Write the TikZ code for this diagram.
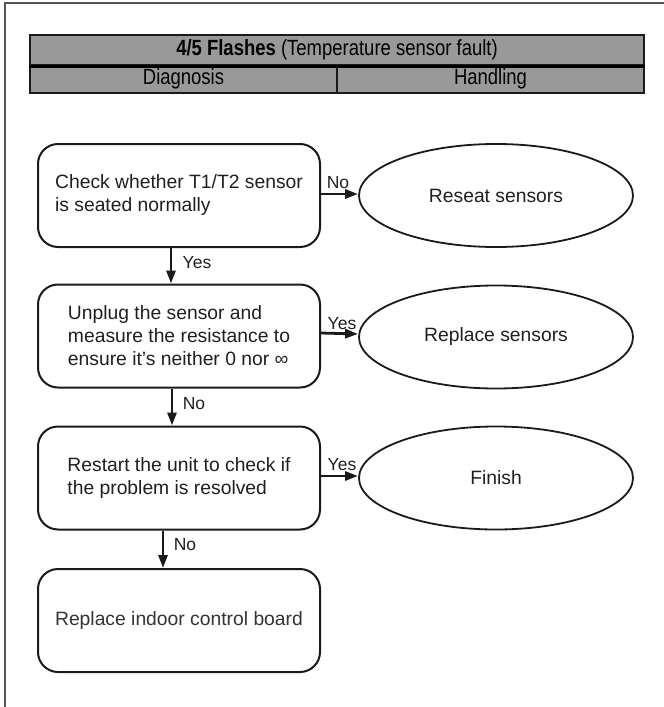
\documentclass[tikz,border=0pt]{standalone}
\usepackage{fontspec}
\usepackage{graphicx}
\setmainfont{Liberation Sans}
\usetikzlibrary{shapes.geometric,arrows.meta}
\definecolor{hdrgray}{HTML}{999999}
\definecolor{linec}{HTML}{1A1A1A}
\definecolor{framec}{HTML}{555555}
\begin{document}
\begin{tikzpicture}[x=1pt,y=-1pt,
  framestyle/.style={draw=framec,line width=1.5pt},
  hdr/.style={draw=linec,fill=hdrgray,line width=2pt,inner sep=0pt},
  hdrtext/.style={font=\fontsize{22}{24}\selectfont},
  stepbox/.style={draw=linec,line width=2pt,rounded corners=20pt,minimum width=282pt,minimum height=103pt,inner sep=0pt,align=left,text=black!88,font=\fontsize{19.3}{23}\selectfont},
  oval/.style={ellipse,draw=linec,line width=1.8pt,minimum width=274pt,minimum height=103pt,inner sep=0pt,text=black!88,font=\fontsize{19.3}{23}\selectfont},
  arr/.style={draw=linec,line width=2.8pt,-{Triangle[length=13pt,width=9pt]}},
  lbl/.style={inner sep=0pt,text=black!88,font=\fontsize{17.5}{19}\selectfont}
]
\useasboundingbox (0,0) rectangle (664,707);
% outer frame
\draw[framestyle] (5,707) -- (5,3) -- (664,3);
% header
\node[hdr,minimum width=614pt,minimum height=30pt] (title) at (337,50)
  {\scalebox{0.84}[1]{\fontsize{22}{24}\selectfont\textbf{4/5 Flashes} (Temperature sensor fault)}};
\node[hdr,minimum width=307pt,minimum height=28pt] (diag) at (183.5,79)
  {\scalebox{0.84}[1]{\fontsize{22}{24}\selectfont Diagnosis}};
\node[hdr,minimum width=307pt,minimum height=28pt] (hand) at (490.5,79)
  {\scalebox{0.84}[1]{\fontsize{22}{24}\selectfont Handling}};
\draw[draw=black,line width=3pt] (title.south west) -- (title.south east);
% diagnosis boxes
\node[stepbox] (b1) at (179,195.5) {Check whether T1/T2 sensor\\is seated normally};
\node[stepbox] (b2) at (179,336) {Unplug the sensor and\\measure the resistance to\\ensure it's neither 0 nor ∞};
\node[stepbox] (b3) at (179,478) {Restart the unit to check if\\the problem is resolved};
\node[stepbox,text=black!80] (b4) at (179,620.5) {Replace indoor control board};
% handling ovals
\node[oval] (e1) at (496,195.5) {Reseat sensors};
\node[oval] (e2) at (496,337) {Replace sensors};
\node[oval] (e3) at (496,478) {Finish};
% connectors
\draw[arr] ([yshift=1.5pt]b1.east) -- ([yshift=1.5pt]e1.west);
\draw[arr] ([yshift=3pt]b2.east) -- ([yshift=3pt]e2.west);
\draw[arr] ([yshift=2pt]b3.east) -- ([yshift=2pt]e3.west);
\draw[arr] ([xshift=-8pt]b1.south) -- ([xshift=-8pt]b2.north);
\draw[arr] ([xshift=-7pt]b2.south) -- ([xshift=-7pt]b3.north);
\draw[arr] ([xshift=-16pt]b3.south) -- ([xshift=-16pt]b4.north);
% labels
\node[lbl] (l1) at (338,183) {No};
\node[lbl] (l2) at (342,324) {Yes};
\node[lbl] (l3) at (342,465) {Yes};
\node[lbl] (l4) at (197,263) {Yes};
\node[lbl] (l5) at (194,404) {No};
\node[lbl] (l6) at (185,545) {No};
\end{tikzpicture}
\end{document}
